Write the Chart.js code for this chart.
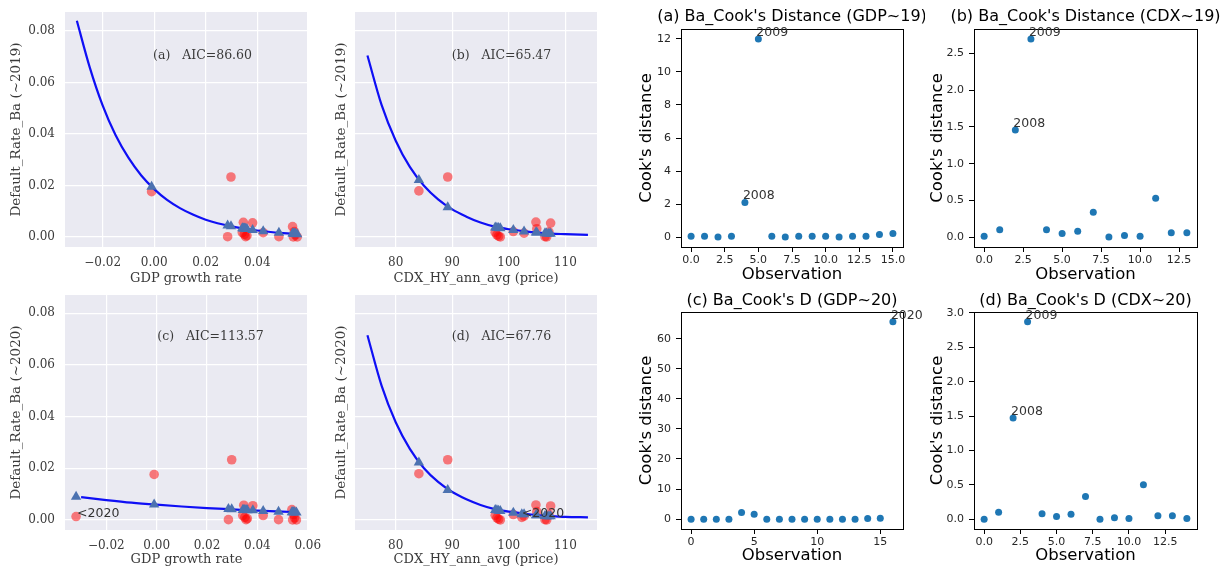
<!DOCTYPE html>
<html>
<head>
<meta charset="utf-8">
<script src="https://cdn.jsdelivr.net/npm/chart.js@4.4.1/dist/chart.umd.min.js"></script>
<style>
  html, body { margin: 0; background: #fff; }
  body { width: 1226px; height: 567px; position: relative; overflow: hidden; }
  canvas { position: absolute; }
</style>
</head>
<body>
<canvas id="pa"></canvas>
<canvas id="pb"></canvas>
<canvas id="pc"></canvas>
<canvas id="pd"></canvas>
<canvas id="ca"></canvas>
<canvas id="cb"></canvas>
<canvas id="cc"></canvas>
<canvas id="cd"></canvas>
<script>
// ---- data ----
// GDP growth vs Ba default rate (one entry per year)
const gdpGrowth   = [-0.001, 0.0298, 0.0285, 0.0346, 0.0382, 0.0342, 0.0355, 0.0350, 0.0423, 0.0484, 0.0537, 0.0544, 0.0540, 0.0555, 0.0360, 0.0548];
const gdpRate     = [0.0176, 0.0233, 0.0001, 0.0057, 0.0055, 0.0017, 0.0001, 0.0010, 0.0017, 0.0001, 0.0040, 0.0021, 0.0000, 0.0000, 0.0005, 0.0008];
const gdpFit19    = [0.0195, 0.0042, 0.0045, 0.0033, 0.0027, 0.0034, 0.0032, 0.0033, 0.0022, 0.0016, 0.0013, 0.0012, 0.0012, 0.0011, 0.0031, 0.0012];
const gdpFit20    = [0.0060, 0.0041, 0.0042, 0.0038, 0.0037, 0.0038, 0.0038, 0.0038, 0.0035, 0.0032, 0.0030, 0.0030, 0.0030, 0.0029, 0.0037, 0.0030];
const gdp2020 = -0.032, gdpRate2020 = 0.0013, gdpFit2020 = 0.0090;

const gdpCurveX19 = [-0.03, -0.025, -0.02, -0.015, -0.01, -0.005, 0, 0.005, 0.01, 0.015, 0.02, 0.03, 0.04, 0.05, 0.056];
const gdpCurveY19 = [0.0840, 0.0659, 0.0511, 0.0396, 0.0308, 0.0239, 0.0186, 0.0144, 0.0112, 0.0087, 0.0067, 0.0041, 0.0025, 0.0015, 0.0011];
const gdpCurveX20 = [-0.03, -0.02, -0.01, 0, 0.01, 0.02, 0.03, 0.04, 0.05, 0.056];
const gdpCurveY20 = [0.0088, 0.0077, 0.0067, 0.0059, 0.0052, 0.0046, 0.0041, 0.0036, 0.0032, 0.0030];

// CDX HY price vs Ba default rate
const cdxPrice = [84.1, 89.2, 97.6, 97.9, 98.5, 98.2, 100.8, 102.7, 104.8, 104.95, 107.4, 107.1, 106.4, 106.7];
const cdxRate  = [0.0179, 0.0233, 0.0018, 0.0008, 0.0000, 0.0003, 0.0021, 0.0015, 0.0058, 0.0032, 0.0054, 0.0020, 0.0001, 0.0000];
const cdxFit19 = [0.0221, 0.0115, 0.0037, 0.0036, 0.0034, 0.0035, 0.0027, 0.0021, 0.0017, 0.0017, 0.0012, 0.0013, 0.0014, 0.0013];
const cdxFit20 = [0.0222, 0.0116, 0.0038, 0.0037, 0.0035, 0.0036, 0.0028, 0.0022, 0.0018, 0.0018, 0.0014, 0.0014, 0.0015, 0.0014];
const cdx2020 = 102.3, cdxRate2020 = 0.0010, cdxFit2020 = 0.0022;

const cdxCurveX   = [75, 77.5, 80, 82.5, 85, 87.5, 90, 92.5, 95, 97.5, 100, 102.5, 105, 107.5, 110, 114];
const cdxCurveY19 = [0.0705, 0.0513, 0.0374, 0.0272, 0.0199, 0.0146, 0.0107, 0.0079, 0.0056, 0.0040, 0.0030, 0.0023, 0.0017, 0.0013, 0.0011, 0.0008];
const cdxCurveY20 = [0.0715, 0.0520, 0.0378, 0.0275, 0.0200, 0.0147, 0.0108, 0.0080, 0.0058, 0.0042, 0.0032, 0.0025, 0.0019, 0.0015, 0.0012, 0.0010];

// Cook's distance per observation
const cooksGdp19 = [0.05, 0.05, 0.0, 0.05, 2.1, 12.0, 0.05, 0.0, 0.05, 0.05, 0.05, 0.0, 0.05, 0.05, 0.15, 0.22];
const cooksCdx19 = [0.01, 0.10, 1.46, 2.70, 0.10, 0.05, 0.08, 0.34, 0.0, 0.02, 0.01, 0.53, 0.06, 0.06];
const cooksGdp20 = [0.0, 0.0, 0.0, 0.0, 2.2, 1.6, 0.0, 0.0, 0.0, 0.0, 0.0, 0.0, 0.0, 0.0, 0.2, 0.3, 65.6];
const cooksCdx20 = [0.0, 0.10, 1.47, 2.87, 0.08, 0.04, 0.07, 0.33, 0.0, 0.02, 0.01, 0.50, 0.05, 0.05, 0.01];

// tick values and labels
const rateTicks   = [0, 0.02, 0.04, 0.06, 0.08];
const rateLabels  = ['0.00', '0.02', '0.04', '0.06', '0.08'];
const gdpTicks19  = [-0.02, 0, 0.02, 0.04];
const gdpLabels19 = ['\u22120.02', '0.00', '0.02', '0.04'];
const gdpTicks20  = [-0.02, 0, 0.02, 0.04, 0.06];
const gdpLabels20 = ['\u22120.02', '0.00', '0.02', '0.04', '0.06'];
const cdxTicks    = [80, 90, 100, 110];
const cdxLabels   = ['80', '90', '100', '110'];
const obsTicks15  = [0, 2.5, 5, 7.5, 10, 12.5, 15];
const obsLabels15 = ['0.0', '2.5', '5.0', '7.5', '10.0', '12.5', '15.0'];
const obsTicks12  = [0, 2.5, 5, 7.5, 10, 12.5];
const obsLabels12 = ['0.0', '2.5', '5.0', '7.5', '10.0', '12.5'];
const obsTicks5   = [0, 5, 10, 15];
const obsLabels5  = ['0', '5', '10', '15'];
const cookTicksA  = [0, 2, 4, 6, 8, 10, 12];
const cookLabelsA = ['0', '2', '4', '6', '8', '10', '12'];
const cookTicksB  = [0, 0.5, 1, 1.5, 2, 2.5];
const cookLabelsB = ['0.0', '0.5', '1.0', '1.5', '2.0', '2.5'];
const cookTicksC  = [0, 10, 20, 30, 40, 50, 60];
const cookLabelsC = ['0', '10', '20', '30', '40', '50', '60'];
const cookTicksD  = [0, 0.5, 1, 1.5, 2, 2.5, 3];
const cookLabelsD = ['0.0', '0.5', '1.0', '1.5', '2.0', '2.5', '3.0'];

const SERIF = "'DejaVu Serif', serif";
const SANS = "'DejaVu Sans', sans-serif";

function pts(xs, ys) { return xs.map((x, i) => ({x: x, y: ys[i]})); }

function axis(sb, o) {
  return {
    type: 'linear', min: o.min, max: o.max, bounds: 'data',
    afterBuildTicks: s => { s.ticks = o.ticks.map(v => ({value: v})); },
    afterFit: s => {
      if (s.isHorizontal()) s.height = o.size; else s.width = o.size;
      s.paddingLeft = s.paddingRight = s.paddingTop = s.paddingBottom = 0;
    },
    ticks: {
      display: o.show !== false, autoSkip: false, maxRotation: 0,
      callback: (v, i) => o.labels[i],
      font: {family: sb ? SERIF : SANS, size: sb ? 12 : 11}, color: sb ? '#3a3a3a' : '#262626', padding: o.pad
    },
    grid: sb ? {color: '#ffffff', lineWidth: 1.2, drawTicks: false}
             : {drawOnChartArea: false, drawTicks: true, tickLength: 5, color: '#000', lineWidth: 1},
    border: {display: !sb, color: '#000', width: 1},
    title: {display: true, text: o.title, color: sb ? '#3a3a3a' : '#000',
            font: {family: sb ? SERIF : SANS, size: o.titleSize}, padding: o.titlePad}
  };
}

function panel(id, box, plot, sb, xo, yo, datasets, notes) {
  const cv = document.getElementById(id);
  const h = plot.b + 43 - box.y;
  cv.width = box.w; cv.height = h;
  cv.style.left = box.x + 'px'; cv.style.top = box.y + 'px';
  xo.size = 43;
  yo.size = plot.l - box.x;
  const extras = {
    id: 'extras_' + id,
    beforeDraw(chart) {
      if (!sb) return;
      const a = chart.chartArea, ctx = chart.ctx;
      ctx.save(); ctx.fillStyle = '#EAEAF2';
      ctx.fillRect(a.left, a.top, a.width, a.height); ctx.restore();
    },
    afterDraw(chart) {
      const a = chart.chartArea, ctx = chart.ctx;
      if (!sb) {
        ctx.save(); ctx.strokeStyle = '#000'; ctx.lineWidth = 1;
        ctx.strokeRect(Math.round(a.left) + 0.5, Math.round(a.top) + 0.5, Math.round(a.width), Math.round(a.height));
        ctx.restore();
      }
      notes.forEach(n => {
        let px, py;
        if (n.data) { px = chart.scales.x.getPixelForValue(n.x); py = chart.scales.y.getPixelForValue(n.y); }
        else { px = a.left + n.x * a.width; py = a.bottom - n.y * a.height; }
        ctx.save();
        ctx.font = n.font; ctx.fillStyle = n.color || '#3a3a3a';
        ctx.textAlign = n.align || 'left'; ctx.textBaseline = n.baseline || 'alphabetic';
        ctx.fillText(n.text, px + (n.dx || 0), py + (n.dy || 0));
        ctx.restore();
      });
    }
  };
  new Chart(cv, {
    type: 'scatter',
    data: {datasets: datasets},
    options: {
      responsive: false, animation: false, events: [],
      layout: {autoPadding: false, padding: {left: 0, top: plot.t - box.y, right: box.x + box.w - plot.r, bottom: 0}},
      plugins: {legend: {display: false}, tooltip: {enabled: false}},
      scales: {x: axis(sb, xo), y: axis(sb, yo)}
    },
    plugins: [extras]
  });
}

function redSet(data) {
  return {data: data, order: 3, pointStyle: 'circle', pointRadius: 4.8, pointBorderWidth: 0,
          backgroundColor: 'rgba(255,0,0,0.5)', borderColor: 'rgba(0,0,0,0)'};
}
function triSet(data) {
  return {data: data, order: 1, pointStyle: 'triangle', pointRadius: 6, pointBorderWidth: 0,
          backgroundColor: '#4C72B0', borderColor: '#4C72B0'};
}
function curveSet(data) {
  return {data: data, order: 2, showLine: true, pointRadius: 0, borderWidth: 2.2,
          borderColor: '#0F0FF5', cubicInterpolationMode: 'monotone', fill: false};
}
function cookSet(vals) {
  return {data: vals.map((v, i) => ({x: i, y: v})), pointStyle: 'circle', pointRadius: 3.5,
          pointBorderWidth: 0, backgroundColor: '#1f77b4', borderColor: '#1f77b4'};
}

const aicFont = '12.5px ' + SERIF;
const yearFont = '12.5px ' + SANS;
const titleFont = '16px ' + SANS;

// ---- left: fitted default-rate models ----
panel('pa', {x: 0, y: 0, w: 330}, {l: 65, t: 12, r: 307, b: 247}, true,
  {min: -0.0346, max: 0.0593, ticks: gdpTicks19, labels: gdpLabels19, pad: 9, title: 'GDP growth rate', titleSize: 13, titlePad: {top: 0, bottom: 3.5}},
  {min: -0.0039, max: 0.0874, ticks: rateTicks, labels: rateLabels, pad: 10, title: 'Default_Rate_Ba (~2019)', titleSize: 13.5, titlePad: {top: 7.9, bottom: 0}},
  [redSet(pts(gdpGrowth, gdpRate)), curveSet(pts(gdpCurveX19, gdpCurveY19)), triSet(pts(gdpGrowth, gdpFit19))],
  [{text: '(a)   AIC=86.60', x: 0.364, y: 0.802, font: aicFont}]);

panel('pb', {x: 310, y: 0, w: 300}, {l: 355, t: 12, r: 597, b: 247}, true,
  {min: 72.8, max: 115.6, ticks: cdxTicks, labels: cdxLabels, pad: 9, title: 'CDX_HY_ann_avg (price)', titleSize: 13, titlePad: {top: 0, bottom: 3.5}},
  {min: -0.0039, max: 0.0874, ticks: rateTicks, labels: rateLabels, pad: 10, show: false, title: 'Default_Rate_Ba (~2019)', titleSize: 13.5, titlePad: {top: 23.6, bottom: 0}},
  [redSet(pts(cdxPrice, cdxRate)), curveSet(pts(cdxCurveX, cdxCurveY19)), triSet(pts(cdxPrice, cdxFit19))],
  [{text: '(b)   AIC=65.47', x: 0.40, y: 0.802, font: aicFont}]);

panel('pc', {x: 0, y: 283, w: 330}, {l: 65, t: 295, r: 308, b: 530}, true,
  {min: -0.0364, max: 0.0601, ticks: gdpTicks20, labels: gdpLabels20, pad: 9, title: 'GDP growth rate', titleSize: 13, titlePad: {top: 0, bottom: 5.5}},
  {min: -0.0039, max: 0.0871, ticks: rateTicks, labels: rateLabels, pad: 10, title: 'Default_Rate_Ba (~2020)', titleSize: 13.5, titlePad: {top: 7.9, bottom: 0}},
  [redSet(pts(gdpGrowth.concat([gdp2020]), gdpRate.concat([gdpRate2020]))),
   curveSet(pts(gdpCurveX20, gdpCurveY20)),
   triSet(pts(gdpGrowth.concat([gdp2020]), gdpFit20.concat([gdpFit2020])))],
  [{text: '(c)   AIC=113.57', x: 0.38, y: 0.807, font: aicFont},
   {text: '<2020', data: true, x: gdp2020, y: gdpRate2020, dx: 1, font: yearFont, color: '#333'}]);

panel('pd', {x: 310, y: 283, w: 300}, {l: 355, t: 295, r: 597, b: 530}, true,
  {min: 72.8, max: 115.6, ticks: cdxTicks, labels: cdxLabels, pad: 9, title: 'CDX_HY_ann_avg (price)', titleSize: 13, titlePad: {top: 0, bottom: 5.5}},
  {min: -0.0039, max: 0.0871, ticks: rateTicks, labels: rateLabels, pad: 10, show: false, title: 'Default_Rate_Ba (~2020)', titleSize: 13.5, titlePad: {top: 23.6, bottom: 0}},
  [redSet(pts(cdxPrice.concat([cdx2020]), cdxRate.concat([cdxRate2020]))),
   curveSet(pts(cdxCurveX, cdxCurveY20)),
   triSet(pts(cdxPrice.concat([cdx2020]), cdxFit20.concat([cdxFit2020])))],
  [{text: '(d)   AIC=67.76', x: 0.40, y: 0.807, font: aicFont},
   {text: '<2020', data: true, x: cdx2020, y: cdxRate2020, font: yearFont, color: '#333'}]);

// ---- right: Cook's distance ----
panel('ca', {x: 615, y: 0, w: 310}, {l: 681, t: 29, r: 903, b: 247}, false,
  {min: -0.75, max: 15.75, ticks: obsTicks15, labels: obsLabels15, pad: 2, title: 'Observation', titleSize: 16.5, titlePad: {top: 0, bottom: 5.2}},
  {min: -0.6, max: 12.6, ticks: cookTicksA, labels: cookLabelsA, pad: 5, title: "Cook's distance", titleSize: 16.5, titlePad: {top: 22.2, bottom: 0}},
  [cookSet(cooksGdp19)],
  [{text: "(a) Ba_Cook's Distance (GDP~19)", x: 0.5, y: 1, dy: -12, align: 'center', baseline: 'middle', font: titleFont, color: '#000'},
   {text: '2009', data: true, x: 5, y: 12.0, dx: -2, dy: -3, font: yearFont, color: '#333'},
   {text: '2008', data: true, x: 4, y: 2.1, dx: -2, dy: -3, font: yearFont, color: '#333'}]);

panel('cb', {x: 905, y: 0, w: 321}, {l: 974, t: 29, r: 1197, b: 247}, false,
  {min: -0.65, max: 13.65, ticks: obsTicks12, labels: obsLabels12, pad: 2, title: 'Observation', titleSize: 16.5, titlePad: {top: 0, bottom: 5.2}},
  {min: -0.135, max: 2.835, ticks: cookTicksB, labels: cookLabelsB, pad: 5, title: "Cook's distance", titleSize: 16.5, titlePad: {top: 23.2, bottom: 0}},
  [cookSet(cooksCdx19)],
  [{text: "(b) Ba_Cook's Distance (CDX~19)", x: 0.5, y: 1, dy: -12, align: 'center', baseline: 'middle', font: titleFont, color: '#000'},
   {text: '2009', data: true, x: 3, y: 2.70, dx: -2, dy: -3, font: yearFont, color: '#333'},
   {text: '2008', data: true, x: 2, y: 1.46, dx: -2, dy: -3, font: yearFont, color: '#333'}]);

panel('cc', {x: 615, y: 283, w: 310}, {l: 681, t: 312, r: 903, b: 529}, false,
  {min: -0.8, max: 16.8, ticks: obsTicks5, labels: obsLabels5, pad: 2, title: 'Observation', titleSize: 16.5, titlePad: {top: 0, bottom: 6.2}},
  {min: -3.28, max: 68.88, ticks: cookTicksC, labels: cookLabelsC, pad: 5, title: "Cook's distance", titleSize: 16.5, titlePad: {top: 22.2, bottom: 0}},
  [cookSet(cooksGdp20)],
  [{text: "(c) Ba_Cook's D (GDP~20)", x: 0.5, y: 1, dy: -11.3, align: 'center', baseline: 'middle', font: titleFont, color: '#000'},
   {text: '2020', data: true, x: 16, y: 65.6, dx: -2, dy: -3, font: yearFont, color: '#333'}]);

panel('cd', {x: 905, y: 283, w: 321}, {l: 974, t: 312, r: 1197, b: 529}, false,
  {min: -0.7, max: 14.7, ticks: obsTicks12, labels: obsLabels12, pad: 2, title: 'Observation', titleSize: 16.5, titlePad: {top: 0, bottom: 6.2}},
  {min: -0.1435, max: 3.0135, ticks: cookTicksD, labels: cookLabelsD, pad: 5, title: "Cook's distance", titleSize: 16.5, titlePad: {top: 23.2, bottom: 0}},
  [cookSet(cooksCdx20)],
  [{text: "(d) Ba_Cook's D (CDX~20)", x: 0.5, y: 1, dy: -11.3, align: 'center', baseline: 'middle', font: titleFont, color: '#000'},
   {text: '2009', data: true, x: 3, y: 2.87, dx: -2, dy: -3, font: yearFont, color: '#333'},
   {text: '2008', data: true, x: 2, y: 1.47, dx: -2, dy: -3, font: yearFont, color: '#333'}]);
</script>
</body>
</html>
